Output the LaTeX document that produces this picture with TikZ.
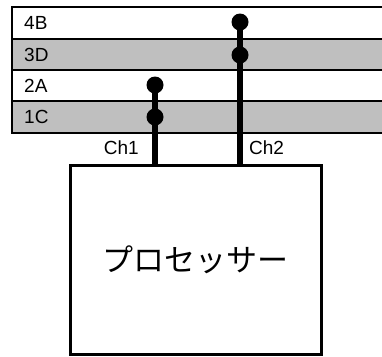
\documentclass[tikz,border=0pt]{standalone}
\usepackage{fontspec}
\setmainfont{Liberation Sans}
\newfontfamily\jpfont{Noto Sans CJK JP}
\begin{document}
\begin{tikzpicture}[x=1pt,y=-1pt,
    row/.style={draw,line width=2pt},
    tap/.style={circle,fill,inner sep=0pt,minimum size=17pt},
    bus/.style={line width=6pt},
    lbl/.style={font=\fontsize{19}{21}\selectfont,inner sep=0pt}]
  \useasboundingbox (0,0) rectangle (382,356);
  % rows
  \draw[row,fill=white] (12,7) rectangle (392,39);
  \draw[row,fill=black!25] (12,39) rectangle (392,70);
  \draw[row,fill=white] (12,70) rectangle (392,101);
  \draw[row,fill=black!25] (12,101) rectangle (392,133);
  \draw
    (24,23) node[lbl,anchor=west] (4B){4B}
    (24,55) node[lbl,anchor=west] (3D){3D}
    (24,86) node[lbl,anchor=west] (2A){2A}
    (24,117) node[lbl,anchor=west] (1C){1C};
  % processor
  \node[draw,line width=3pt,minimum width=251pt,minimum height=189pt,
    font=\jpfont\fontsize{31}{36}\selectfont] (cpu) at (195.5,259.5) {プロセッサー};
  % channels
  \node[tap] (ch1a) at (155,85) {};
  \node[tap] (ch1b) at (155,117) {};
  \node[tap] (ch2a) at (240,22) {};
  \node[tap] (ch2b) at (240,55) {};
  \begin{scope}[bus]
    \draw (ch1a.center) to (ch1a.center |- cpu.north);
    \draw (ch2a.center) to (ch2a.center |- cpu.north);
  \end{scope}
  \node[lbl,anchor=east] (ch1) at (139,148) {Ch1};
  \node[lbl,anchor=west] (ch2) at (249,148) {Ch2};
\end{tikzpicture}
\end{document}
